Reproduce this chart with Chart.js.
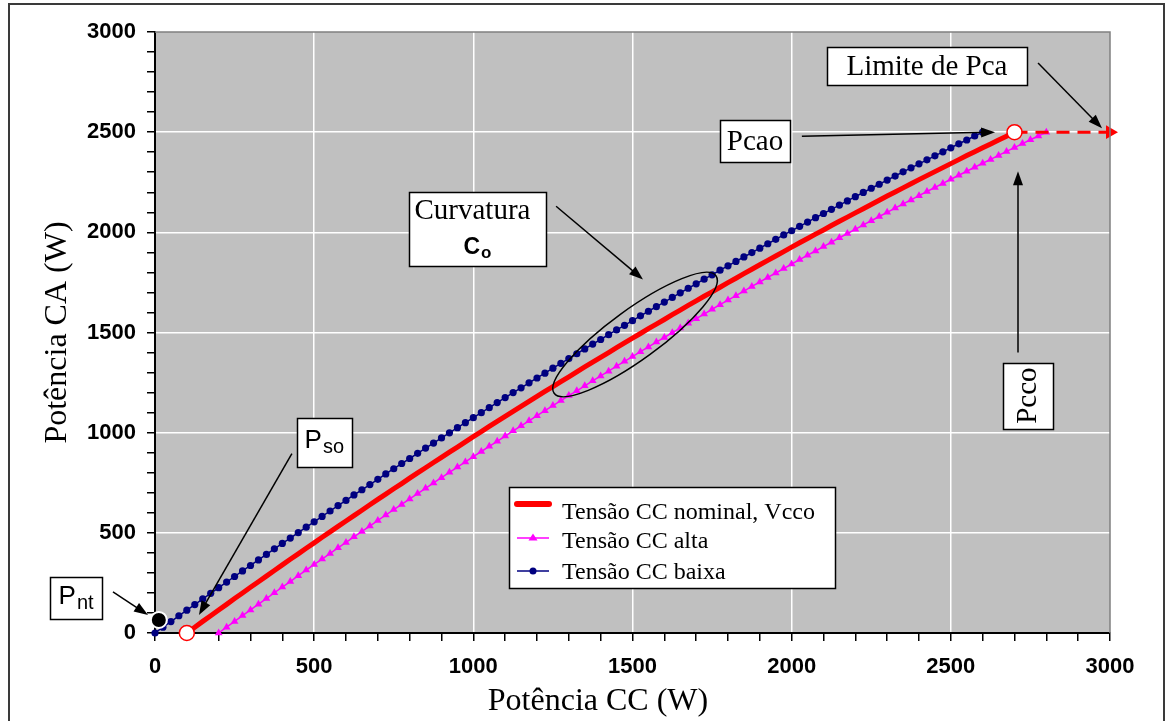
<!DOCTYPE html>
<html>
<head>
<meta charset="utf-8">
<script src="https://cdn.jsdelivr.net/npm/chart.js@4.4.1/dist/chart.umd.min.js"></script>
<style>
  body { margin: 0; background: #fff; }
  #wrap { width: 1175px; height: 721px; }
</style>
</head>
<body>
<div id="wrap"><canvas id="myChart" width="1175" height="721"></canvas></div>
<script>
// Potência CC (W), passo de 25 W
const potenciaCC = [
  0, 25, 50, 75, 100, 125, 150, 175, 200, 225, 250, 275, 300, 325, 350, 375, 400, 425, 450, 475,
  500, 525, 550, 575, 600, 625, 650, 675, 700, 725, 750, 775, 800, 825, 850, 875, 900, 925, 950, 975,
  1000, 1025, 1050, 1075, 1100, 1125, 1150, 1175, 1200, 1225, 1250, 1275, 1300, 1325, 1350, 1375, 1400, 1425, 1450, 1475,
  1500, 1525, 1550, 1575, 1600, 1625, 1650, 1675, 1700, 1725, 1750, 1775, 1800, 1825, 1850, 1875, 1900, 1925, 1950, 1975,
  2000, 2025, 2050, 2075, 2100, 2125, 2150, 2175, 2200, 2225, 2250, 2275, 2300, 2325, 2350, 2375, 2400, 2425, 2450, 2475,
  2500, 2525, 2550, 2575, 2600, 2625, 2650, 2675, 2700, 2725, 2750, 2775, 2800
];

// Potência CA (W) para cada tensão CC
const tensaoBaixa = [
  0, 29, 57, 86, 114, 142, 170, 198, 226, 254, 282, 310, 337, 365, 392, 420, 447, 474, 501, 528,
  555, 582, 609, 636, 662, 689, 715, 741, 767, 794, 820, 846, 871, 897, 923, 948, 974, 999, 1025, 1050,
  1075, 1100, 1125, 1150, 1175, 1200, 1224, 1249, 1273, 1297, 1322, 1346, 1370, 1394, 1418, 1442, 1465, 1489, 1513, 1536,
  1559, 1583, 1606, 1629, 1652, 1675, 1698, 1721, 1743, 1766, 1788, 1811, 1833, 1855, 1877, 1899, 1921, 1943, 1965, 1987,
  2008, 2030, 2051, 2073, 2094, 2115, 2136, 2157, 2178, 2199, 2220, 2240, 2261, 2281, 2302, 2322, 2342, 2362, 2382, 2402,
  2422, 2442, 2461, 2481, 2500, null, null, null, null, null, null, null, null
];

const tensaoNominal = [
  null, null, null, null,
  0, 29, 58, 86, 115, 143, 172, 200, 228, 256, 284, 312, 340, 368, 395, 423, 450, 478, 505, 532,
  559, 586, 613, 640, 667, 693, 720, 746, 773, 799, 825, 851, 877, 903, 928, 954, 980, 1005, 1031, 1056,
  1081, 1106, 1131, 1156, 1181, 1206, 1230, 1255, 1279, 1304, 1328, 1352, 1376, 1400, 1424, 1448, 1472, 1495, 1519, 1542,
  1565, 1589, 1612, 1635, 1658, 1681, 1703, 1726, 1749, 1771, 1794, 1816, 1838, 1860, 1882, 1904, 1926, 1948, 1969, 1991,
  2012, 2034, 2055, 2076, 2097, 2118, 2139, 2160, 2181, 2201, 2222, 2242, 2263, 2283, 2303, 2323, 2343, 2363, 2383, 2402,
  2422, 2441, 2461, 2480, 2500,
  null, null, null, null
];

const tensaoAlta = [
  null, null, null, null, null, null, null, null,
  0, 29, 58, 87, 115, 144, 172, 201, 229, 257, 286, 314, 342, 369, 397, 425, 452, 480, 507, 534,
  562, 589, 616, 642, 669, 696, 722, 749, 775, 802, 828, 854, 880, 906, 932, 957, 983, 1009, 1034, 1059,
  1085, 1110, 1135, 1160, 1185, 1209, 1234, 1259, 1283, 1307, 1332, 1356, 1380, 1404, 1428, 1452, 1475, 1499, 1522, 1546,
  1569, 1592, 1616, 1639, 1662, 1684, 1707, 1730, 1752, 1775, 1797, 1819, 1842, 1864, 1886, 1907, 1929, 1951, 1973, 1994,
  2015, 2037, 2058, 2079, 2100, 2121, 2142, 2162, 2183, 2204, 2224, 2244, 2265, 2285, 2305, 2325, 2345, 2364, 2384, 2404,
  2423, 2443, 2462, 2481, 2500
];

// limite de Pca (tracejado)
const limiteCC = [2700, 3000];
const limiteCA = [2500, 2500];

// Pso e Pcao
const pontosCC = [100, 2700];
const pontosCA = [0, 2500];

// Pnt
const pntCC = [12];
const pntCA = [65];

const nomesSeries = ["Tensão CC nominal, Vcco", "Tensão CC alta", "Tensão CC baixa"];

// caixas de texto (centro em unidades do gráfico)
const notas = [
  { texto: "Limite de Pca", x: 2425, y: 2830, w: 200, h: 38 },
  { texto: "Pcao", x: 1885, y: 2455, w: 70, h: 42 },
  { texto: "Curvatura", sub: ["C", "o"], x: 1013, y: 2015, w: 137, h: 74 },
  { sub: ["P", "so"], x: 532, y: 952, w: 55, h: 49 },
  { sub: ["P", "nt"], x: -248, y: 175, w: 52, h: 42 },
  { texto: "Pcco", x: 2742, y: 1185, w: 50, h: 66, girar: true },
];

const setas = [
  { de: [2774, 2845], para: [2975, 2520] },
  { de: [2032, 2480], para: [2639, 2500] },
  { de: [2711, 1400], para: [2711, 2305] },
  { de: [1260, 2130], para: [1533, 1765] },
  { de: [430, 895], para: [138, 90] },
  { de: [-132, 205], para: [-22, 90] },
];

function pares(xs, ys) {
  const out = [];
  xs.forEach((x, i) => {
    if (ys[i] !== null && ys[i] !== undefined) out.push({ x: x, y: ys[i] });
  });
  return out;
}

function linhaGrade(v) {
  return (v % 500 === 0 && v > 0 && v < 3000) ? "#ffffff" : "rgba(0,0,0,0)";
}

function desenhaSeta(ctx, x1, y1, x2, y2) {
  const ang = Math.atan2(y2 - y1, x2 - x1);
  const L = 14, W = 5;
  ctx.beginPath();
  ctx.moveTo(x1, y1);
  ctx.lineTo(x2 - L * 0.7 * Math.cos(ang), y2 - L * 0.7 * Math.sin(ang));
  ctx.stroke();
  ctx.beginPath();
  ctx.moveTo(x2, y2);
  ctx.lineTo(x2 - L * Math.cos(ang) + W * Math.sin(ang), y2 - L * Math.sin(ang) - W * Math.cos(ang));
  ctx.lineTo(x2 - L * Math.cos(ang) - W * Math.sin(ang), y2 - L * Math.sin(ang) + W * Math.cos(ang));
  ctx.closePath();
  ctx.fill();
}

const fundoPlugin = {
  id: "fundo",
  beforeDraw(chart) {
    const { ctx, chartArea: a } = chart;
    ctx.save();
    ctx.fillStyle = "#ffffff";
    ctx.fillRect(0, 0, chart.width, chart.height);
    ctx.strokeStyle = "#3a3a3a";
    ctx.lineWidth = 2;
    ctx.strokeRect(9, 4, 1155, 760);
    ctx.fillStyle = "#c0c0c0";
    ctx.fillRect(a.left, a.top, a.right - a.left, a.bottom - a.top);
    ctx.restore();
  },
  afterDraw(chart) {
    const { ctx, chartArea: a } = chart;
    const xs = chart.scales.x, ys = chart.scales.y;
    ctx.save();

    // borda cinza da área do gráfico
    ctx.strokeStyle = "#808080";
    ctx.lineWidth = 1.5;
    ctx.beginPath();
    ctx.moveTo(a.left, a.top);
    ctx.lineTo(a.right, a.top);
    ctx.lineTo(a.right, a.bottom);
    ctx.stroke();

    // elipse da curvatura
    ctx.strokeStyle = "#000";
    ctx.lineWidth = 1.5;
    ctx.beginPath();
    ctx.ellipse(xs.getPixelForValue(1508), ys.getPixelForValue(1490), 100, 25, -36 * Math.PI / 180, 0, 2 * Math.PI);
    ctx.stroke();

    // setas
    ctx.fillStyle = "#000";
    setas.forEach(s => {
      desenhaSeta(ctx, xs.getPixelForValue(s.de[0]), ys.getPixelForValue(s.de[1]),
        xs.getPixelForValue(s.para[0]), ys.getPixelForValue(s.para[1]));
    });

    // caixas de texto
    notas.forEach(n => {
      const cx = xs.getPixelForValue(n.x), cy = ys.getPixelForValue(n.y);
      const l = Math.round(cx - n.w / 2) + 0.5, t = Math.round(cy - n.h / 2) + 0.5;
      ctx.fillStyle = "#fff";
      ctx.fillRect(l, t, n.w, n.h);
      ctx.strokeStyle = "#000";
      ctx.lineWidth = 1.5;
      ctx.strokeRect(l, t, n.w, n.h);
      ctx.fillStyle = "#000";
      if (n.girar) {
        ctx.save();
        ctx.translate(cx, cy);
        ctx.rotate(-Math.PI / 2);
        ctx.font = "29px 'Liberation Serif'";
        ctx.textAlign = "center";
        ctx.textBaseline = "middle";
        ctx.fillText(n.texto, 0, 1);
        ctx.restore();
      } else if (n.texto && n.sub) {
        ctx.font = "29px 'Liberation Serif'";
        ctx.textAlign = "left";
        ctx.textBaseline = "alphabetic";
        ctx.fillText(n.texto, l + 5, cy - 10);
        ctx.font = "bold 23px 'Liberation Sans'";
        const w1 = ctx.measureText(n.sub[0]).width;
        ctx.font = "bold 17px 'Liberation Sans'";
        const w2 = ctx.measureText(n.sub[1]).width;
        const x0 = cx - (w1 + w2 + 1) / 2;
        ctx.font = "bold 23px 'Liberation Sans'";
        ctx.fillText(n.sub[0], x0, cy + 25);
        ctx.font = "bold 17px 'Liberation Sans'";
        ctx.fillText(n.sub[1], x0 + w1 + 1, cy + 29);
      } else if (n.sub) {
        ctx.textAlign = "left";
        ctx.textBaseline = "alphabetic";
        ctx.font = "26px 'Liberation Sans'";
        const w1 = ctx.measureText(n.sub[0]).width;
        ctx.font = "20px 'Liberation Sans'";
        const w2 = ctx.measureText(n.sub[1]).width;
        const x0 = cx - (w1 + w2 + 1) / 2;
        ctx.font = "26px 'Liberation Sans'";
        ctx.fillText(n.sub[0], x0, cy + 6);
        ctx.font = "20px 'Liberation Sans'";
        ctx.fillText(n.sub[1], x0 + w1 + 1, cy + 11);
      } else {
        ctx.font = "29px 'Liberation Serif'";
        ctx.textAlign = "center";
        ctx.textBaseline = "middle";
        ctx.fillText(n.texto, cx, cy + 1);
      }
    });

    // título do eixo x
    ctx.fillStyle = "#000";
    ctx.font = "32px 'Liberation Serif'";
    ctx.textAlign = "center";
    ctx.textBaseline = "middle";
    ctx.fillText("Potência CC (W)", 598, 702);

    // legenda
    const lx = 509.5, ly = 487.5, lw = 326, lh = 101;
    ctx.fillStyle = "#fff";
    ctx.fillRect(lx, ly, lw, lh);
    ctx.strokeStyle = "#000";
    ctx.lineWidth = 1.5;
    ctx.strokeRect(lx, ly, lw, lh);
    const linhas = [
      { ds: chart.data.datasets[0], yl: 504, yt: 519 },
      { ds: chart.data.datasets[1], yl: 538, yt: 548 },
      { ds: chart.data.datasets[2], yl: 571, yt: 579 },
    ];
    linhas.forEach((r, i) => {
      ctx.strokeStyle = r.ds.borderColor;
      ctx.lineWidth = i === 0 ? 6 : 1.5;
      ctx.lineCap = i === 0 ? "round" : "butt";
      ctx.beginPath();
      ctx.moveTo(517, r.yl);
      ctx.lineTo(549, r.yl);
      ctx.stroke();
      ctx.fillStyle = r.ds.borderColor;
      if (i === 1) {
        ctx.beginPath();
        ctx.moveTo(533, r.yl - 4.5);
        ctx.lineTo(537.5, r.yl + 2.5);
        ctx.lineTo(528.5, r.yl + 2.5);
        ctx.closePath();
        ctx.fill();
      } else if (i === 2) {
        ctx.beginPath();
        ctx.arc(533, r.yl, 3.5, 0, 2 * Math.PI);
        ctx.fill();
      }
      ctx.fillStyle = "#000";
      ctx.font = "24px 'Liberation Serif'";
      ctx.textAlign = "left";
      ctx.textBaseline = "alphabetic";
      ctx.fillText(nomesSeries[i], 562, r.yt);
    });
    ctx.restore();
  }
};

const eixoTicks = {
  stepSize: 100,
  autoSkip: false,
  maxRotation: 0,
  color: "#000",
  font: { family: "Liberation Sans", size: 22, weight: "bold" },
  callback: v => (v % 500 === 0 ? String(v) : "")
};

const eixoGrade = {
  color: c => linhaGrade(c.tick.value),
  lineWidth: 1.5,
  tickColor: "#000",
  tickLength: 8,
  tickWidth: 1.5
};

const config = {
  type: "scatter",
  data: {
    datasets: [
      {
        label: nomesSeries[0],
        data: pares(potenciaCC, tensaoNominal),
        showLine: true,
        borderColor: "#ff0000",
        borderWidth: 5,
        pointRadius: 0,
        clip: false,
        order: 3,
      },
      {
        label: nomesSeries[1],
        data: pares(potenciaCC, tensaoAlta),
        showLine: true,
        borderColor: "#ff00ff",
        backgroundColor: "#ff00ff",
        borderWidth: 1.5,
        pointStyle: "triangle",
        pointRadius: 4.5,
        pointBorderWidth: 0,
        clip: false,
        order: 4,
      },
      {
        label: nomesSeries[2],
        data: pares(potenciaCC, tensaoBaixa),
        showLine: true,
        borderColor: "#000080",
        backgroundColor: "#000080",
        borderWidth: 1.5,
        pointStyle: "circle",
        pointRadius: 3.6,
        pointBorderWidth: 0,
        clip: false,
        order: 4,
      },
      {
        label: "Limite de Pca",
        data: pares(limiteCC, limiteCA),
        showLine: true,
        borderColor: "#ff0000",
        backgroundColor: "#ff0000",
        borderWidth: 3,
        borderDash: [13, 8],
        pointStyle: "triangle",
        pointRadius: [0, 8],
        pointRotation: 90,
        pointBorderWidth: 0,
        clip: false,
        order: 2,
      },
      {
        label: "Pso / Pcao",
        data: pares(pontosCC, pontosCA),
        showLine: false,
        borderColor: "#ff0000",
        backgroundColor: "#ffffff",
        pointRadius: 7.5,
        pointBorderWidth: 1.5,
        clip: false,
        order: 1,
      },
      {
        label: "Pnt",
        data: pares(pntCC, pntCA),
        showLine: false,
        borderColor: "#ffffff",
        backgroundColor: "#000000",
        pointRadius: 8,
        pointBorderWidth: 2,
        clip: false,
        order: 1,
      },
    ],
  },
  options: {
    responsive: false,
    animation: false,
    layout: { padding: { left: 0, right: 65, top: 32, bottom: 0 } },
    plugins: { legend: { display: false }, tooltip: { enabled: false } },
    scales: {
      x: {
        type: "linear",
        min: 0,
        max: 3000,
        afterFit: s => { s.height = 88; },
        ticks: Object.assign({}, eixoTicks, { padding: 13 }),
        grid: eixoGrade,
        border: { color: "#000", width: 2 },
      },
      y: {
        type: "linear",
        min: 0,
        max: 3000,
        afterFit: s => { s.width = 155; },
        ticks: Object.assign({}, eixoTicks, { padding: 11 }),
        grid: eixoGrade,
        border: { color: "#000", width: 2 },
        title: {
          display: true,
          text: "Potência CA (W)",
          color: "#000",
          font: { family: "Liberation Serif", size: 32 },
          padding: { top: 38, bottom: 0 },
        },
      },
    },
  },
  plugins: [fundoPlugin],
};

const myChart = new Chart(document.getElementById("myChart"), config);
</script>
</body>
</html>
